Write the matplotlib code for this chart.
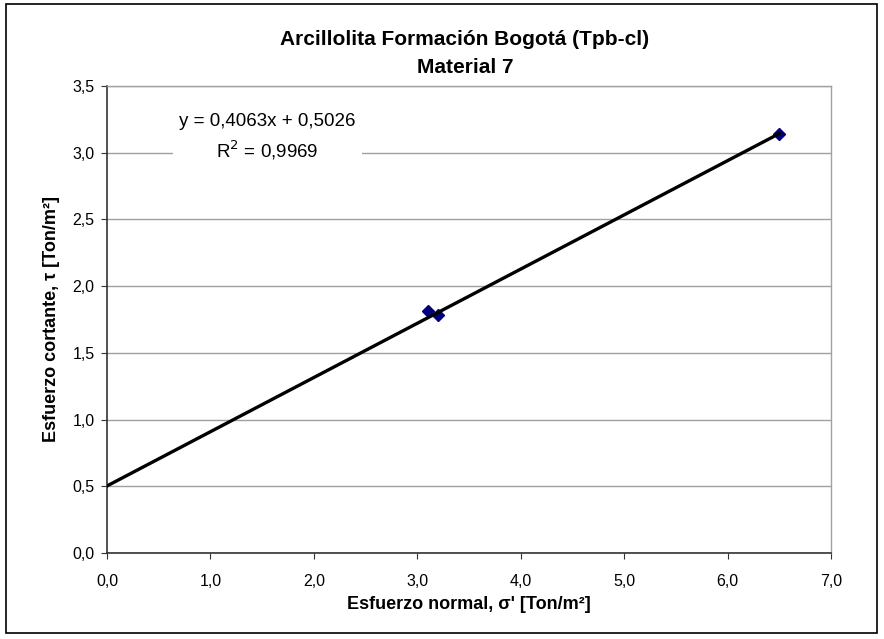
import matplotlib
matplotlib.use("Agg")
import matplotlib.pyplot as plt
from matplotlib.patches import Rectangle
from matplotlib.ticker import FuncFormatter
import numpy as np

plt.rcParams['font.family'] = ['Liberation Sans', 'DejaVu Sans']

sigma = [3.1, 3.2, 6.5]
tau = [1.81, 1.78, 3.14]
slope = 0.4063
intercept = 0.5026
r_squared = 0.9969
trend_x = [0.0, 6.5]
title = "Arcillolita Formación Bogotá (Tpb-cl)\nMaterial 7"
xlabel = "Esfuerzo normal, σ' [Ton/m²]"
ylabel = "Esfuerzo cortante, τ [Ton/m²]"

fig = plt.figure(figsize=(8.84, 6.39), dpi=100)
W, H = 884, 639
ax = fig.add_axes([107 / W, 1 - 553 / H, (831 - 107) / W, (553 - 86) / H])

# outer border
fig.patches.append(Rectangle((6 / W, 1 - 633 / H), (877 - 6) / W, (633 - 4) / H,
                             transform=fig.transFigure, fill=False,
                             edgecolor='black', linewidth=1.2))

tx = np.array(trend_x)
ax.plot(sigma, tau, linestyle='none', marker='D', markersize=6,
        color='#000080', markeredgecolor='#000080', zorder=3)
ax.plot(tx, slope * tx + intercept, color='black', linewidth=2.4, zorder=4)

ax.set_xlim(0, 7)
ax.set_ylim(0, 3.5)
ax.set_xticks(np.arange(0, 7.01, 1.0))
ax.set_yticks(np.arange(0, 3.51, 0.5))
fmt = FuncFormatter(lambda v, p: f"{v:.1f}".replace('.', ','))
ax.xaxis.set_major_formatter(fmt)
ax.yaxis.set_major_formatter(fmt)
ax.tick_params(axis='both', labelsize=11.5, direction='out', length=4, color='#333333')
ax.tick_params(axis='x', pad=11)
ax.tick_params(axis='y', pad=5)
ax.yaxis.grid(True, color='#a0a0a0', linewidth=1)
ax.set_axisbelow(True)
for s in ['left', 'bottom']:
    ax.spines[s].set_color('#333333')
    ax.spines[s].set_linewidth(1.2)
for s in ['top', 'right']:
    ax.spines[s].set_color('#a0a0a0')
    ax.spines[s].set_linewidth(1)

ax.set_xlabel(xlabel, fontsize=13, fontweight='bold', labelpad=5)
ax.set_ylabel(ylabel, fontsize=13, fontweight='bold', labelpad=9)

fig.text(465 / W, 1 - 53.5 / H, title, ha='center', va='center',
         fontsize=15, fontweight='bold', linespacing=1.6)

eq = f"y = {slope:.4f}x + {intercept:.4f}".replace('.', ',')
r2 = "R$^2$ = " + f"{r_squared:.4f}".replace('.', ',')
fx = 267 / W
fig.text(fx, 1 - 122 / H, eq, ha='center', va='center', fontsize=13.5, zorder=5)
fig.text(fx, 1 - 150 / H, r2, ha='center', va='center', fontsize=13.5, zorder=5)
fig.patches.append(Rectangle((173 / W, 1 - 165 / H), (362 - 173) / W, 60 / H,
                             transform=fig.transFigure, facecolor='white',
                             edgecolor='none', zorder=2))

fig.savefig('out.png', dpi=100)
